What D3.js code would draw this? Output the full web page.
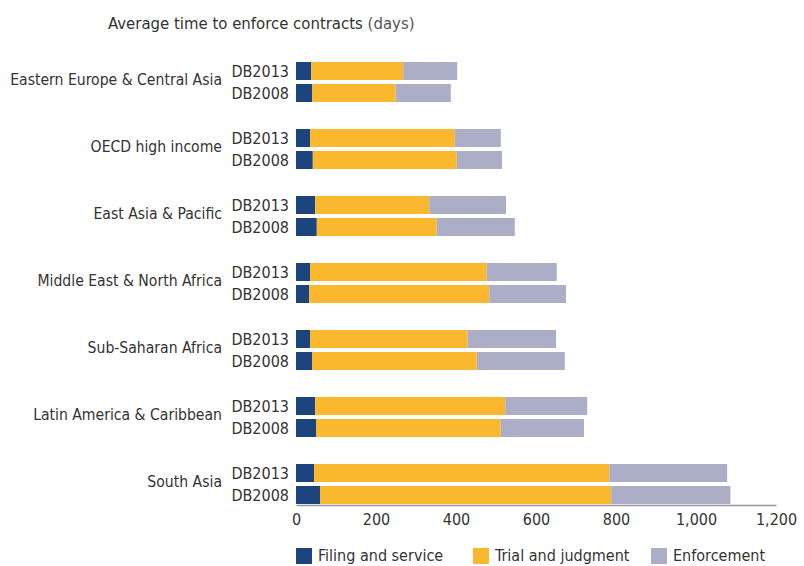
<!DOCTYPE html>
<html>
<head>
<meta charset="utf-8">
<script src="https://cdn.jsdelivr.net/npm/d3@7"></script>
<style>
body { margin: 0; background: #fff; }
text { font-family: "Liberation Sans Narrow", "DejaVu Sans Condensed", "Open Sans", sans-serif; fill: #333; }
</style>
</head>
<body>
<div id="chart-area"></div>
<script>
var regions = ["Eastern Europe & Central Asia", "OECD high income", "East Asia & Pacific",
    "Middle East & North Africa", "Sub-Saharan Africa", "Latin America & Caribbean", "South Asia"];
var years = ["DB2013", "DB2008"];
var stages = ["Filing and service", "Trial and judgment", "Enforcement"];
var colors = ["#1c4580", "#f9b82d", "#acaec8"];

// days per stage, [DB2013, DB2008] for each region
var filing = [[38, 40], [35, 42], [48, 52], [35, 33], [35, 40], [48, 50], [45, 60]];
var trial = [[230, 209], [362, 360], [285, 300], [442, 450], [394, 412], [475, 462], [738, 728]];
var enforcement = [[135, 138], [115, 113], [192, 195], [175, 192], [221, 220], [205, 208], [295, 298]];
var xTicks = [0, 200, 400, 600, 800, 1000, 1200];

var svg = d3.select("#chart-area").append("svg")
    .attr("width", 804)
    .attr("height", 566);

var x = d3.scaleLinear().domain([0, 1200]).range([296, 776]);
var y = d3.scaleBand().domain(regions).range([62, 531]).paddingInner(0);
var barH = 18, gap = 4;

svg.append("text")
    .attr("x", 108).attr("y", 29)
    .style("font-size", "16.6px")
    .text("Average time to enforce contracts ")
    .append("tspan").style("fill", "#555").text("(days)");

regions.forEach((r, i) => {
    var top = y(r);
    years.forEach((yr, j) => {
        var by = top + j * (barH + gap);
        var vals = [filing[i][j], trial[i][j], enforcement[i][j]];
        var start = 0;
        vals.forEach((v, k) => {
            svg.append("rect")
                .attr("x", x(start))
                .attr("y", by)
                .attr("width", x(start + v) - x(start))
                .attr("height", barH)
                .attr("fill", colors[k]);
            start += v;
        });
        svg.append("text")
            .attr("x", 289).attr("y", by + barH / 2)
            .attr("dy", "0.35em")
            .attr("text-anchor", "end")
            .style("font-size", "16px")
            .text(yr);
    });
    svg.append("text")
        .attr("x", 222).attr("y", top + barH)
        .attr("dy", "0.35em")
        .attr("text-anchor", "end")
        .style("font-size", "15.6px")
        .text(r);
});

// x axis
var axis = svg.append("g").attr("transform", "translate(0,505)")
    .call(d3.axisBottom(x).tickValues(xTicks).tickSize(0).tickPadding(9)
        .tickFormat(d3.format(",")));
axis.select(".domain").attr("stroke", "#999").attr("stroke-width", 1.5);
axis.selectAll("text").style("font-size", "16px").style("fill", "#333")
    .style("font-family", "\"Liberation Sans Narrow\", \"DejaVu Sans Condensed\", sans-serif");

// legend
var legendX = [296, 473, 651];
stages.forEach((s, k) => {
    svg.append("rect")
        .attr("x", legendX[k]).attr("y", 548)
        .attr("width", 16).attr("height", 16)
        .attr("fill", colors[k]);
    svg.append("text")
        .attr("x", legendX[k] + 22).attr("y", 555)
        .attr("dy", "0.35em")
        .style("font-size", "16px")
        .text(s);
});
</script>
</body>
</html>
